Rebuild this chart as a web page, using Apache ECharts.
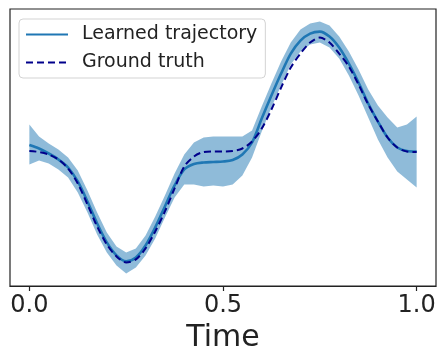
<!DOCTYPE html>
<html><head><meta charset="utf-8">
<script src="https://cdn.jsdelivr.net/npm/echarts@6/dist/echarts.min.js"></script>
<style>html,body{margin:0;padding:0;background:#fff}#c{width:438px;height:353px}</style>
</head><body><div id="c"></div>
<script>
const time = [0, 0.025, 0.05, 0.075, 0.1, 0.125, 0.15, 0.175, 0.2, 0.225, 0.25, 0.275, 0.3, 0.325, 0.35, 0.375, 0.4, 0.425, 0.45, 0.475, 0.5,
  0.525, 0.55, 0.575, 0.6, 0.625, 0.65, 0.675, 0.7, 0.725, 0.75, 0.775, 0.8, 0.825, 0.85, 0.875, 0.9, 0.925, 0.95, 0.975, 1.0];
const learned = [0.065, 0.03, -0.02, -0.08, -0.16, -0.30, -0.50, -0.72, -0.91, -1.04, -1.10, -1.06, -0.94, -0.76, -0.55, -0.34, -0.18, -0.125, -0.11, -0.105, -0.10,
  -0.085, -0.03, 0.09, 0.33, 0.56, 0.78, 0.98, 1.11, 1.18, 1.20, 1.15, 1.04, 0.88, 0.69, 0.48, 0.30, 0.14, 0.04, 0.005, 0.0];
const groundTruth = [0.005, -0.005, -0.03, -0.08, -0.17, -0.32, -0.53, -0.75, -0.93, -1.05, -1.11, -1.08, -0.97, -0.80, -0.60, -0.37, -0.15, -0.05, -0.005, 0.0, 0.0,
  0.005, 0.03, 0.10, 0.23, 0.42, 0.64, 0.84, 0.98, 1.09, 1.14, 1.09, 0.98, 0.85, 0.67, 0.47, 0.30, 0.14, 0.04, 0.0, -0.005];
const bandUpper = [0.27, 0.15, 0.08, 0.02, -0.06, -0.19, -0.39, -0.61, -0.81, -0.95, -1.01, -0.97, -0.84, -0.65, -0.44, -0.22, -0.03, 0.09, 0.14, 0.15, 0.15,
  0.15, 0.15, 0.21, 0.45, 0.68, 0.90, 1.09, 1.22, 1.28, 1.30, 1.26, 1.15, 1.00, 0.82, 0.62, 0.46, 0.34, 0.24, 0.27, 0.35];
const bandLower = [-0.13, -0.09, -0.12, -0.18, -0.26, -0.41, -0.61, -0.83, -1.01, -1.14, -1.22, -1.16, -1.04, -0.87, -0.66, -0.46, -0.33, -0.33, -0.35, -0.34, -0.35,
  -0.33, -0.24, -0.06, 0.20, 0.44, 0.66, 0.87, 1.00, 1.07, 1.09, 1.04, 0.93, 0.76, 0.56, 0.34, 0.12, -0.06, -0.20, -0.28, -0.36];
const xTicks = [0, 0.5, 1.0];
const seriesNames = ['Learned trajectory', 'Ground truth'];

const FONT = 'DejaVu Sans';
const chart = echarts.init(document.getElementById('c'), null, {renderer: 'canvas'});
const bandData = time.map((x, i) => [x, bandLower[i], bandUpper[i]]);
chart.setOption({
  animation: false,
  backgroundColor: '#fff',
  grid: {left: 10, right: 2, top: 9, bottom: 67, show: true, borderColor: '#222', borderWidth: 1.2, backgroundColor: 'transparent',
         outerBoundsMode: 'none', containLabel: false},
  legend: {
    data: seriesNames, orient: 'vertical', left: 19, top: 19,
    backgroundColor: 'rgba(255,255,255,0.8)', borderColor: '#d3d3d3', borderWidth: 1, borderRadius: 4,
    padding: [6, 8, 6, 6], itemGap: 9, itemWidth: 42, itemHeight: 16,
    itemStyle: {opacity: 0},
    textStyle: {fontFamily: FONT, fontSize: 19, color: '#222', padding: [0, 0, 0, 9]}
  },
  xAxis: {
    type: 'value', min: -0.05, max: 1.05,
    axisLine: {show: true, onZero: false, lineStyle: {color: '#222', width: 1.2}},
    axisTick: {show: true, customValues: xTicks, length: 5, lineStyle: {color: '#222', width: 1.2}},
    axisLabel: {customValues: xTicks, formatter: v => v.toFixed(1), fontFamily: FONT, fontSize: 24, color: '#222', margin: 8},
    splitLine: {show: false},
    name: 'Time', nameLocation: 'middle', nameGap: 33,
    nameTextStyle: {fontFamily: FONT, fontSize: 30, color: '#222'}
  },
  yAxis: {
    type: 'value', min: -1.346, max: 1.426,
    axisLine: {show: false}, axisTick: {show: false}, axisLabel: {show: false}, splitLine: {show: false}
  },
  series: [
    {name: 'band', type: 'custom', silent: true, z: 1,
     data: bandData,
     encode: {x: 0, y: [1, 2]},
     renderItem: function (params, api) {
       if (params.dataIndex !== 0) return null;
       const pts = [];
       for (let i = 0; i < bandData.length; i++) pts.push(api.coord([bandData[i][0], bandData[i][2]]));
       for (let i = bandData.length - 1; i >= 0; i--) pts.push(api.coord([bandData[i][0], bandData[i][1]]));
       return {type: 'polygon', shape: {points: pts}, style: {fill: 'rgba(31,119,180,0.5)', stroke: 'none'}};
     }},
    {name: seriesNames[0], type: 'line', symbol: 'none', smooth: 0.3,
     data: time.map((x, i) => [x, learned[i]]), color: '#1f77b4',
     lineStyle: {color: '#1f77b4', width: 2.6}, z: 3},
    {name: seriesNames[1], type: 'line', symbol: 'none', smooth: 0.3,
     data: time.map((x, i) => [x, groundTruth[i]]), color: '#00008b',
     lineStyle: {color: '#00008b', width: 2, type: [7, 4]}, z: 4}
  ]
});
</script></body></html>
